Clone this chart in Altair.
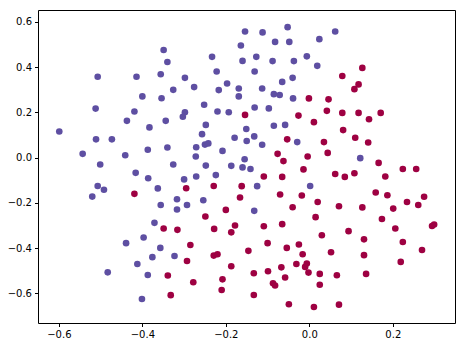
import altair as alt
import pandas as pd

# class 0 (purple) points
x0 = [-0.349, -0.340, -0.507, -0.414, -0.356, -0.298, -0.326, -0.400, -0.354, -0.512,
      -0.419, -0.298, -0.437, -0.383, -0.344, -0.303, -0.599, -0.511, -0.473, -0.543,
      -0.441, -0.387, -0.340, -0.501, -0.326, -0.416, -0.386, -0.300, -0.507, -0.492,
      -0.520, -0.363, -0.317, -0.356, -0.317, -0.371, -0.397, -0.439, -0.357, -0.376,
      -0.323, -0.412, -0.483, -0.387, -0.401,
      -0.154, -0.112, -0.052, -0.164, -0.082, -0.048, 0.024, -0.233, -0.160, -0.127,
      -0.088, -0.037, -0.006, 0.019, -0.222, -0.131, -0.276, -0.197, -0.217, -0.169,
      -0.169, -0.113, -0.065, -0.040, -0.085, -0.071, -0.039, -0.252, -0.220, -0.193,
      -0.131, -0.097, 0.062,
      -0.248, -0.257, -0.271, -0.250, -0.242, -0.272, -0.208, -0.179, -0.151, -0.150,
      -0.132, -0.113, -0.085, -0.058, -0.029, -0.248, -0.187, -0.155, -0.160, -0.141,
      -0.224, -0.271, -0.125, 0.002, -0.254, -0.293, -0.132, 0.122]
y0 = [0.476, 0.423, 0.358, 0.358, 0.369, 0.353, 0.300, 0.271, 0.263, 0.217,
      0.204, 0.201, 0.163, 0.134, 0.163, 0.181, 0.116, 0.081, 0.081, 0.017,
      0.011, 0.035, 0.045, -0.030, -0.030, -0.067, -0.091, -0.096, -0.125, -0.142,
      -0.172, -0.136, -0.184, -0.209, -0.229, -0.288, -0.353, -0.378, -0.399, -0.440,
      -0.435, -0.470, -0.507, -0.519, -0.625,
      0.558, 0.554, 0.577, 0.496, 0.512, 0.512, 0.524, 0.446, 0.428, 0.446,
      0.427, 0.427, 0.448, 0.406, 0.381, 0.381, 0.312, 0.328, 0.299, 0.306,
      0.271, 0.306, 0.335, 0.353, 0.281, 0.277, 0.262, 0.234, 0.204, 0.201,
      0.222, 0.218, 0.558,
      0.145, 0.104, 0.046, 0.058, 0.063, 0.005, 0.030, 0.088, 0.127, 0.074,
      0.094, 0.057, 0.141, 0.145, 0.069, -0.035, -0.036, -0.007, -0.043, -0.050,
      -0.077, -0.083, -0.126, -0.125, -0.188, -0.209, -0.235, -0.002]

# class 1 (red) points
x1 = [-0.349, -0.316, -0.339, -0.332, -0.419, -0.001, -0.154, -0.026, 0.011, -0.053,
      -0.076, -0.062, -0.004, -0.014, -0.295, -0.229, -0.162, -0.109, -0.065, -0.166,
      -0.070, -0.018, 0.020, -0.200, -0.040, -0.249, 0.015,
      0.127, 0.079, 0.118, 0.108, 0.046, 0.042, 0.079, 0.118, 0.171, 0.143,
      0.081, 0.110, 0.141, 0.035, 0.044, 0.166, 0.224, 0.256, 0.062, 0.085,
      0.108, 0.182, 0.159, 0.187, 0.234, 0.275, 0.261, 0.071, 0.127, 0.201, 0.174,
      -0.228, -0.187, -0.178, -0.109, -0.065, -0.285, -0.293, -0.229, -0.220, -0.146,
      -0.100, -0.054, -0.025, -0.016, -0.031, -0.010, -0.006, -0.002, 0.030, 0.025,
      0.025, -0.187, -0.133, -0.099, -0.067, -0.058, -0.278, -0.208, -0.210, -0.087,
      -0.082, -0.133, -0.049, 0.011,
      0.094, 0.131, 0.206, 0.224, 0.294, 0.299, 0.052, 0.131, 0.219, 0.270,
      0.066, 0.136, 0.071]
y1 = [-0.313, -0.319, -0.521, -0.608, -0.160, 0.262, 0.189, 0.186, 0.157, 0.081,
      0.017, -0.015, 0.005, -0.052, -0.135, -0.125, -0.126, -0.083, -0.085, -0.176,
      -0.163, -0.167, -0.196, -0.231, -0.219, -0.260, -0.263,
      0.397, 0.361, 0.324, 0.303, 0.258, 0.207, 0.198, 0.198, 0.198, 0.170,
      0.122, 0.088, 0.067, 0.069, 0.021, -0.023, -0.050, -0.050, -0.072, -0.085,
      -0.069, -0.083, -0.154, -0.166, -0.196, -0.173, -0.209, -0.215, -0.220, -0.225, -0.271,
      -0.315, -0.330, -0.300, -0.303, -0.294, -0.386, -0.457, -0.433, -0.427, -0.412,
      -0.378, -0.399, -0.384, -0.427, -0.470, -0.483, -0.468, -0.508, -0.343, -0.562,
      -0.514, -0.480, -0.511, -0.502, -0.485, -0.530, -0.551, -0.538, -0.585, -0.555,
      -0.565, -0.607, -0.648, -0.660,
      -0.325, -0.361, -0.313, -0.373, -0.302, -0.296, -0.418, -0.431, -0.461, -0.408,
      -0.520, -0.514, -0.650]

x_ticks = [-0.6, -0.4, -0.2, 0.0, 0.2]
y_ticks = [-0.6, -0.4, -0.2, 0.0, 0.2, 0.4, 0.6]
class_colors = ["#5e4fa2", "#9e0142"]

df = pd.DataFrame({
    "x": x0 + x1,
    "y": y0 + y1,
    "label": [0] * len(x0) + [1] * len(x1),
})

chart = alt.Chart(df).mark_circle(size=44, opacity=1).encode(
    x=alt.X("x:Q", scale=alt.Scale(domain=[-0.650, 0.349], nice=False, zero=False),
            axis=alt.Axis(values=x_ticks, format=".1f", title=None)),
    y=alt.Y("y:Q", scale=alt.Scale(domain=[-0.731, 0.653], nice=False, zero=False),
            axis=alt.Axis(values=y_ticks, format=".1f", title=None)),
    color=alt.Color("label:N", scale=alt.Scale(domain=[0, 1], range=class_colors), legend=None),
).properties(
    width=417, height=313,
    autosize=alt.AutoSizeParams(type="none"),
    padding={"left": 30, "top": 2, "right": 5, "bottom": 20},
).configure_view(
    stroke="black", strokeWidth=1
).configure_axis(
    grid=False, domain=False, ticks=True, tickColor="black", tickSize=3.5,
    labelFont="DejaVu Sans", labelFontSize=10, labelColor="black", labelPadding=3,
)

chart.save("out.html", embed_options={"renderer": "svg", "actions": False})
